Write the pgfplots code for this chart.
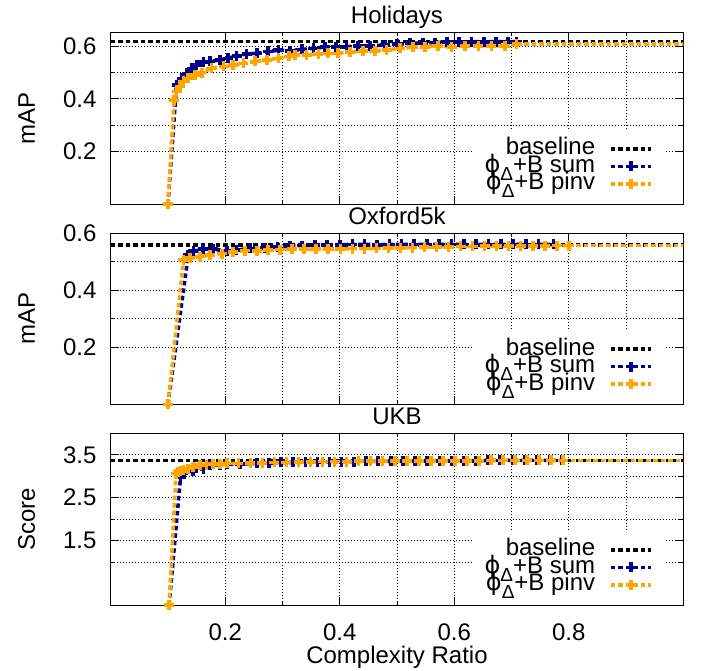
\documentclass[border=0pt]{standalone}
\usepackage{fontspec}
\setmainfont{Liberation Sans}
\newfontfamily\phifont{DejaVu Sans}
\usepackage{pgfplots}
\pgfplotsset{compat=1.18}
\definecolor{gpnavy}{RGB}{0,0,139}
\definecolor{gporange}{RGB}{255,165,0}
\newcommand{\fs}{\fontsize{24}{28}\selectfont}
\newcommand{\phd}{{\phifont ϕ}\raisebox{-8pt}{\fontsize{19}{19}\selectfont Δ}}

\pgfplotsset{
  gpbase/.style={
    scale only axis, width=572.6pt, xmin=0, xmax=1,
    font=\fs,
    xtick={0.2,0.4,0.6,0.8}, minor xtick={0.3,0.5,0.7,0.9},
    grid=both,
    major grid style={black, line width=0.7pt, dash pattern=on 1pt off 2pt},
    minor grid style={black, line width=0.7pt, dash pattern=on 1pt off 2pt},
    tick align=inside, major tick length=8pt, minor tick length=4pt,
    tick style={black, line width=0.8pt},
    axis line style={line width=1pt},
    /pgf/number format/assume math mode=true,
    tick label style={font=\fs},
    yticklabel style={inner sep=0pt, xshift=-14pt},
    xticklabel style={inner sep=0pt, text height=17pt, yshift=-18pt},
    title style={font=\fs, anchor=base, at={(0.5,1)}, yshift=3pt},
    ylabel style={font=\fs, at={(axis description cs:-0.147,0.5)}, anchor=center},
    legend cell align=right, legend plot pos=right,
    legend style={draw=none, fill=white, at={(axis description cs:0.968,0)},
      anchor=south east, inner xsep=12pt, inner ysep=12pt, column sep=14pt,
      row sep=1.5pt, nodes={inner sep=0pt, text height=14pt, text depth=2pt}, font=\fs},
    legend image code/.code={\draw[mark repeat=2,mark phase=2]
      plot coordinates {(0pt,0pt)(20pt,0pt)(40pt,0pt)};},
  },
  gpline/.style={line width=3.6pt, dash pattern=on 4.5pt off 3pt},
  basel/.style={gpline, black, no marks},
  sumline/.style={gpline, gpnavy, mark=+, mark size=5pt, mark options={solid, line width=3.6pt}},
  pinvline/.style={gpline, gporange, mark=+, mark size=5pt, mark options={solid, line width=3.6pt}},
  tail/.style={gpline, gporange, no marks, forget plot},
}

\begin{document}
\begin{tikzpicture}
\path[use as bounding box] (0,0) rectangle (702pt,-670pt);

% Holidays
\begin{axis}[gpbase, at={(110.7pt,-32.3pt)}, anchor=north west, height=171.7pt,
  ymin=0, ymax=0.653, ytick={0.2,0.4,0.6}, minor ytick={0.3,0.5},
  xticklabels={}, title={Holidays}, ylabel={mAP}]
\addplot[basel] coordinates {(0,0.618)(1,0.618)};
\addlegendentry{baseline}
\addplot[sumline] coordinates {
(0.100,0.0)(0.115,0.453)(0.124,0.478)(0.133,0.497)
(0.1415,0.516)(0.150,0.529)(0.162,0.539)(0.173,0.542)(0.191,0.548)(0.205,0.554)
(0.220,0.563)(0.2375,0.571)(0.255,0.573)(0.275,0.580)(0.293,0.585)(0.313,0.583)
(0.334,0.588)(0.354,0.592)(0.374,0.596)(0.393,0.597)(0.412,0.598)(0.432,0.601)
(0.453,0.601)(0.479,0.605)(0.4995,0.608)(0.523,0.611)(0.545,0.612)(0.566,0.614)
(0.587,0.616)(0.608,0.616)(0.630,0.617)(0.652,0.617)(0.673,0.617)(0.694,0.617)
(0.709,0.617)};
\addlegendentry{\phd+B sum}
\addplot[pinvline] coordinates {
(0.100,0.0)(0.1106,0.396)(0.115,0.428)(0.121,0.447)
(0.127,0.466)(0.1355,0.478)(0.147,0.491)(0.159,0.500)(0.176,0.516)(0.197,0.523)
(0.214,0.529)(0.2316,0.535)(0.252,0.542)(0.2725,0.548)(0.293,0.554)(0.311,0.561)
(0.322,0.567)(0.342,0.567)(0.3626,0.571)(0.380,0.573)(0.397,0.573)(0.418,0.578)
(0.441,0.583)(0.4616,0.583)(0.482,0.586)(0.505,0.592)(0.528,0.596)(0.549,0.598)
(0.572,0.601)(0.5955,0.598)(0.619,0.602)(0.642,0.602)(0.665,0.602)(0.689,0.602)
(0.709,0.608)};
\addlegendentry{\phd+B pinv}
\addplot[tail] coordinates {(0.709,0.608)(1.05,0.608)};
\end{axis}

% Oxford5k
\begin{axis}[gpbase, at={(110.7pt,-233.3pt)}, anchor=north west, height=171pt,
  ymin=0, ymax=0.6, ytick={0.2,0.4,0.6}, minor ytick={0.3,0.5},
  xticklabels={}, title={Oxford5k}, ylabel={mAP}]
\addplot[basel] coordinates {(0,0.558)(1,0.558)};
\addlegendentry{baseline}
\addplot[sumline] coordinates {
(0.100,0.0)(0.1355,0.524)(0.1443,0.537)(0.1617,0.544)(0.179,0.544)(0.2026,0.538)(0.220,0.541)
(0.243,0.547)(0.269,0.549)(0.291,0.553)(0.313,0.556)(0.334,0.557)(0.357,0.558)
(0.378,0.559)(0.400,0.560)(0.422,0.561)(0.443,0.561)(0.465,0.560)(0.487,0.561)
(0.508,0.561)(0.530,0.561)(0.552,0.561)(0.573,0.561)(0.595,0.561)(0.617,0.561)
(0.638,0.561)(0.660,0.561)(0.682,0.561)(0.703,0.561)(0.725,0.561)(0.747,0.561)
(0.773,0.561)};
\addlegendentry{\phd+B sum}
\addplot[pinvline] coordinates {
(0.100,0.0)(0.127,0.506)(0.1385,0.514)(0.156,0.518)(0.1734,0.524)(0.194,0.529)(0.214,0.535)
(0.2345,0.539)(0.255,0.538)(0.275,0.541)(0.296,0.543)(0.317,0.544)(0.338,0.544)
(0.359,0.544)(0.380,0.545)(0.401,0.545)(0.422,0.546)(0.443,0.546)(0.464,0.547)
(0.485,0.548)(0.506,0.549)(0.527,0.550)(0.548,0.551)(0.569,0.553)(0.590,0.553)
(0.611,0.554)(0.632,0.554)(0.653,0.555)(0.674,0.555)(0.695,0.555)(0.716,0.556)
(0.737,0.556)(0.758,0.556)(0.779,0.557)(0.800,0.557)};
\addlegendentry{\phd+B pinv}
\addplot[tail] coordinates {(0.800,0.557)(1.05,0.557)};
\end{axis}

% UKB
\begin{axis}[gpbase, at={(110.7pt,-433.3pt)}, anchor=north west, height=171.7pt,
  ymin=0, ymax=4, ytick={1.5,2.5,3.5}, minor ytick={1,2,3},
  title={UKB}, ylabel={Score}, xlabel={Complexity Ratio},
  xlabel style={font=\fs, at={(axis description cs:0.5,0)}, anchor=base, yshift=-58pt}]
\addplot[basel] coordinates {(0,3.37)(1,3.37)};
\addlegendentry{baseline}
\addplot[sumline] coordinates {
(0.102,0)(0.122,2.98)(0.127,3.06)
(0.144,3.12)(0.162,3.18)(0.173,3.26)(0.191,3.27)(0.2026,3.28)(0.226,3.28)(0.255,3.30)
(0.276,3.31)(0.297,3.32)(0.318,3.32)(0.340,3.33)(0.361,3.33)(0.382,3.34)(0.403,3.34)
(0.425,3.34)(0.446,3.35)(0.467,3.35)(0.489,3.35)(0.510,3.35)(0.531,3.36)(0.552,3.36)
(0.574,3.36)(0.595,3.36)(0.616,3.36)(0.638,3.36)(0.659,3.37)(0.680,3.37)(0.702,3.37)
(0.723,3.37)(0.744,3.37)(0.766,3.37)(0.787,3.37)};
\addlegendentry{\phd+B sum}
\addplot[pinvline] coordinates {
(0.102,0)(0.114,3.06)(0.118,3.10)
(0.122,3.12)(0.127,3.14)(0.1355,3.18)(0.144,3.22)(0.156,3.26)(0.167,3.27)(0.179,3.28)
(0.191,3.29)(0.2026,3.30)(0.223,3.30)(0.244,3.31)(0.265,3.31)(0.286,3.32)(0.307,3.32)
(0.328,3.33)(0.349,3.33)(0.370,3.34)(0.391,3.34)(0.412,3.34)(0.433,3.35)(0.454,3.35)
(0.475,3.35)(0.496,3.35)(0.517,3.36)(0.538,3.36)(0.559,3.36)(0.580,3.36)(0.601,3.36)
(0.622,3.36)(0.643,3.36)(0.664,3.37)(0.685,3.37)(0.706,3.37)(0.727,3.37)(0.748,3.37)
(0.769,3.37)(0.790,3.37)};
\addlegendentry{\phd+B pinv}
\addplot[tail] coordinates {(0.790,3.37)(1.05,3.37)};
\end{axis}
\end{tikzpicture}
\end{document}
